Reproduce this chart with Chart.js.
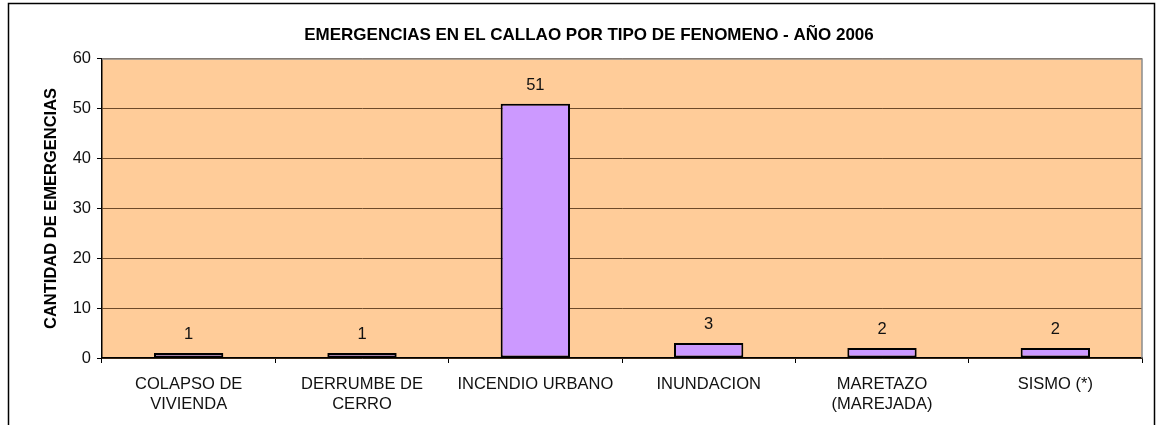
<!DOCTYPE html>
<html>
<head>
<meta charset="utf-8">
<script src="https://cdn.jsdelivr.net/npm/chart.js@4.4.0/dist/chart.umd.min.js"></script>
<style>
  html, body { margin: 0; padding: 0; background: #ffffff; }
  #wrap { width: 1157px; height: 425px; position: relative; }
</style>
</head>
<body>
<div id="wrap"><canvas id="c" width="1157" height="425"></canvas></div>
<script>
const categories = [
  ["COLAPSO DE", "VIVIENDA"],
  ["DERRUMBE DE", "CERRO"],
  "INCENDIO URBANO",
  "INUNDACION",
  ["MARETAZO", "(MAREJADA)"],
  "SISMO (*)"
];
const emergencias = [1, 1, 51, 3, 2, 2];
const yTicks = [0, 10, 20, 30, 40, 50, 60];
const chartTitle = "EMERGENCIAS EN EL CALLAO POR TIPO DE FENOMENO - AÑO 2006";
const yAxisTitle = "CANTIDAD DE EMERGENCIAS";

const FONT = "'Liberation Sans', Arial, sans-serif";

const decor = {
  id: 'decor',
  beforeDraw(chart) {
    const a = chart.chartArea, ctx = chart.ctx;
    ctx.save();
    ctx.fillStyle = '#FFCC99';
    ctx.fillRect(a.left, a.top, a.right - a.left, a.bottom - a.top);
    ctx.restore();
  },
  afterDatasetsDraw(chart) {
    const ctx = chart.ctx;
    const meta = chart.getDatasetMeta(0);
    ctx.save();
    ctx.font = "16.5px " + FONT;
    ctx.fillStyle = '#111';
    ctx.textAlign = 'center';
    ctx.textBaseline = 'middle';
    meta.data.forEach((el, i) => {
      ctx.fillText(String(emergencias[i]), el.x, el.y - 18.5);
    });
    ctx.restore();
  },
  afterDraw(chart) {
    const a = chart.chartArea, ctx = chart.ctx;
    ctx.save();
    ctx.strokeStyle = '#8c8c8c';
    ctx.lineWidth = 1.5;
    ctx.beginPath();
    ctx.moveTo(a.left, a.top);
    ctx.lineTo(a.right, a.top);
    ctx.lineTo(a.right, a.bottom);
    ctx.stroke();
    ctx.strokeStyle = '#000';
    ctx.lineWidth = 1.5;
    ctx.strokeRect(8.5, 3.5, 1146, 500);
    ctx.restore();
  }
};

new Chart(document.getElementById('c'), {
  type: 'bar',
  data: {
    labels: categories,
    datasets: [{
      data: emergencias,
      backgroundColor: '#CC99FF',
      borderColor: '#000000',
      borderWidth: 2,
      borderSkipped: false,
      barPercentage: 0.4,
      categoryPercentage: 1.0
    }]
  },
  options: {
    responsive: false,
    animation: false,
    devicePixelRatio: 1,
    layout: { padding: { left: 36, right: 15, top: 0, bottom: 0 } },
    plugins: {
      legend: { display: false },
      tooltip: { enabled: false },
      title: {
        display: true,
        text: chartTitle,
        color: '#000',
        font: { family: FONT, size: 17, weight: 'bold', lineHeight: 1.2 },
        padding: { top: 25, bottom: 13.5 }
      }
    },
    scales: {
      x: {
        grid: {
          display: true,
          drawOnChartArea: false,
          drawTicks: true,
          tickLength: 5,
          color: '#000',
          offset: true
        },
        border: { display: true, color: '#000', width: 1.5 },
        ticks: {
          color: '#111',
          font: { family: FONT, size: 16.5, lineHeight: '20px' },
          padding: 11,
          maxRotation: 0,
          autoSkip: false
        },
        afterFit(scale) { scale.height = 67; }
      },
      y: {
        min: 0,
        max: 60,
        afterBuildTicks(scale) { scale.ticks = yTicks.map(v => ({ value: v })); },
        grid: {
          color: '#6e4a2a',
          lineWidth: 1,
          tickColor: '#000',
          tickLength: 5,
          drawTicks: true
        },
        border: { display: true, color: '#000', width: 1.5 },
        ticks: {
          color: '#111',
          font: { family: FONT, size: 16.5 },
          padding: 6
        },
        title: {
          display: true,
          text: yAxisTitle,
          color: '#000',
          font: { family: FONT, size: 16.5, weight: 'bold', lineHeight: 1.2 },
          padding: { top: 6, bottom: 0 }
        },
        afterFit(scale) { scale.width = 66; }
      }
    }
  },
  plugins: [decor]
});
</script>
</body>
</html>
